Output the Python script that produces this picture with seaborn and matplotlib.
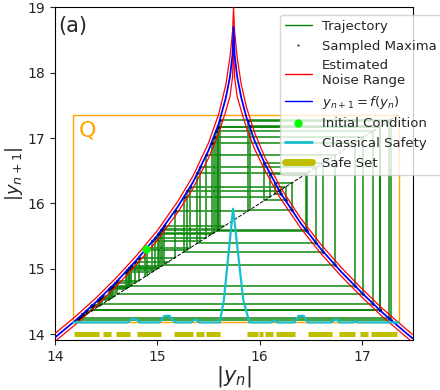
import numpy as np
import matplotlib
matplotlib.use('Agg')
import matplotlib.pyplot as plt
import seaborn as sns
from matplotlib.lines import Line2D
from matplotlib.patches import Rectangle

# --- Datos ---
# mapa y_{n+1} = f(y_n) (rama izquierda + rama derecha)
curve_x = [14.0, 14.2, 14.4, 14.6, 14.8, 15.0, 15.2, 15.35, 15.5, 15.6, 15.67, 15.71, 15.735, 15.745,
           15.755, 15.78, 15.82, 15.87, 15.95, 16.05, 16.2, 16.4, 16.6, 16.8, 17.0, 17.2, 17.4, 17.5]
curve_y = [13.95, 14.21, 14.49, 14.80, 15.14, 15.51, 15.95, 16.33, 16.81, 17.22, 17.62, 17.94, 18.28, 18.70,
           18.28, 17.94, 17.62, 17.32, 16.96, 16.61, 16.17, 15.70, 15.30, 14.95, 14.63, 14.33, 14.06, 13.93]
# semi-ancho del rango de ruido estimado
noise_halfwidth = [0.06, 0.061, 0.063, 0.066, 0.069, 0.075, 0.083, 0.094, 0.116, 0.147, 0.2, 0.3, 0.35, 0.3,
                   0.35, 0.3, 0.2, 0.158, 0.125, 0.1, 0.085, 0.075, 0.07, 0.067, 0.064, 0.062, 0.06, 0.059]

# trayectorias (máximos sucesivos)
traj_a = [14.883, 15.294, 16.187, 16.208, 16.151, 16.314, 15.902, 17.178, 14.363, 14.439,
          14.550, 14.723, 15.009, 15.530, 16.932, 14.739, 15.036, 15.589, 17.173, 14.370,
          14.448, 14.564, 14.745, 15.046, 15.611, 17.280, 14.221, 14.240, 14.266, 14.302,
          14.353, 14.425, 14.528, 14.689, 14.951, 15.420, 16.554, 15.392, 16.463, 15.573,
          17.111, 14.464, 14.589, 14.784, 15.112]
traj_b = [14.897, 15.319, 16.253, 16.046, 16.623, 15.260, 16.103, 16.455, 15.589, 17.177,
          14.365, 14.441, 14.554, 14.728, 15.018, 15.550, 17.014, 14.609, 14.816, 15.169,
          15.882, 17.265, 14.242, 14.269, 14.306, 14.359, 14.432, 14.540, 14.707, 14.982,
          15.477, 16.735, 15.063, 15.649]

initial_condition = (14.888, 15.304)

# conjunto Q
q_low, q_high_x, q_high_y = 14.18, 17.36, 17.35

# seguridad clásica
classical_x = [14.18, 14.71, 14.75, 14.79, 14.83, 15.02, 15.07, 15.12, 15.17, 15.33, 15.36, 15.38,
               15.41, 15.61, 15.65, 15.74, 15.84, 15.90, 16.11, 16.14, 16.18, 16.34, 16.38, 16.43,
               16.47, 16.70, 16.73, 16.76, 16.78, 16.91, 16.935, 16.96, 17.36]
classical_y = [14.18, 14.18, 14.23, 14.23, 14.18, 14.18, 14.28, 14.28, 14.18, 14.18, 14.22, 14.22,
               14.18, 14.18, 14.52, 15.92, 14.52, 14.18, 14.18, 14.21, 14.18, 14.18, 14.28, 14.28,
               14.18, 14.18, 14.22, 14.22, 14.18, 14.18, 14.2, 14.18, 14.18]

# conjunto seguro (intervalos)
safe_intervals = [(14.19, 14.43), (14.47, 14.55), (14.60, 14.73), (14.80, 15.04), (15.16, 15.35),
                  (15.38, 15.46), (15.48, 15.61), (15.88, 15.98), (15.99, 16.03), (16.05, 16.13),
                  (16.16, 16.35), (16.47, 16.71), (16.78, 16.93), (16.98, 17.06), (17.09, 17.34)]
safe_level = 14.0


def cobweb(seq):
    """Construye el camino de la telaraña a partir de la secuencia."""
    px, py = [seq[0]], [seq[0]]
    for a, b in zip(seq[:-1], seq[1:]):
        px += [a, b]
        py += [b, b]
    return px, py


sns.set_style('ticks')
plt.rcParams['font.family'] = ['DejaVu Sans']
plt.rcParams['axes.edgecolor'] = 'black'

fig, ax = plt.subplots(figsize=(4.4, 3.9), dpi=100)
fig.subplots_adjust(left=0.125, right=0.939, top=0.981, bottom=0.128)

# Trayectoria
for seq in (traj_a, traj_b):
    tx, ty = cobweb(seq)
    ax.plot(tx, ty, color='green', lw=1.3, alpha=0.8, zorder=1)

# Conjunto Q
ax.add_patch(Rectangle((q_low, q_low), q_high_x - q_low, q_high_y - q_low,
                       fill=False, edgecolor='orange', lw=1.0, zorder=1.5))
ax.text(q_low + 0.05, q_high_y - 0.08, 'Q', color='orange', fontsize=16, va='top', ha='left')

# Máximos muestreados
sx = traj_a[:-1] + traj_b[:-1]
sy = traj_a[1:] + traj_b[1:]
ax.plot(sx, sy, '.', color='black', ms=2.5, alpha=0.7, zorder=2)

# Rango de ruido
cy = np.array(curve_y)
nw = np.array(noise_halfwidth)
ax.plot(curve_x, cy + nw, color='red', lw=0.9, zorder=3)
ax.plot(curve_x, cy - nw, color='red', lw=0.9, zorder=3)

# f(y_n)
sns.lineplot(x=curve_x, y=curve_y, color='blue', lw=1.3, sort=False, ax=ax, zorder=4)

# Diagonal
ax.plot([q_low, q_high_x], [q_low, q_high_x], color='black', ls='--', lw=0.7, zorder=5)

# Seguridad clásica
ax.plot(classical_x, classical_y, color='#17becf', lw=1.6, zorder=5)

# Conjunto seguro
for a, b in safe_intervals:
    ax.plot([a, b], [safe_level, safe_level], color='#bfbf00', lw=3.6, solid_capstyle='butt', zorder=5)

# Condición inicial
ax.plot([initial_condition[0]], [initial_condition[1]], 'o', color='lime', ms=5, zorder=6)

ax.set_xlim(14, 17.5)
ax.set_ylim(13.91, 19)
ax.set_xticks([14, 15, 16, 17])
ax.set_yticks([14, 15, 16, 17, 18, 19])
ax.tick_params(labelsize=10)
ax.set_xlabel('$|y_n|$', fontsize=15, labelpad=0)
ax.set_ylabel('$|y_{n+1}|$', fontsize=13, labelpad=2)
ax.text(0.01, 0.975, '(a)', transform=ax.transAxes, fontsize=15, va='top', ha='left')

handles = [
    Line2D([], [], color='green', lw=1),
    Line2D([], [], marker='.', ls='none', color='black', ms=1.5, alpha=0.6),
    Line2D([], [], color='red', lw=1),
    Line2D([], [], color='blue', lw=1),
    Line2D([], [], marker='o', ls='none', color='lime', ms=5),
    Line2D([], [], color='#17becf', lw=2),
    Line2D([], [], color='#bfbf00', lw=5),
]
labels = ['Trajectory', 'Sampled Maxima', 'Estimated\nNoise Range', '$y_{n+1} = f(y_n)$',
          'Initial Condition', 'Classical Safety', 'Safe Set']
ax.legend(handles, labels, loc='upper left', bbox_to_anchor=(0.628, 0.978), fontsize=9.5,
          frameon=True, borderaxespad=0)

fig.savefig('out.png', dpi=100)
